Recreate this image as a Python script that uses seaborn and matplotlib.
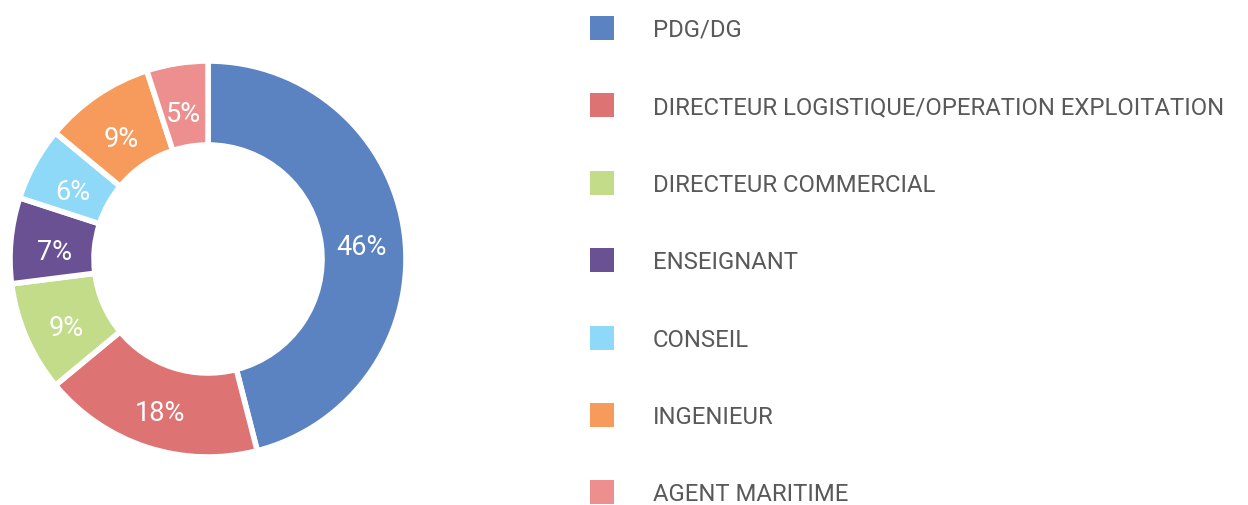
import numpy as np
import matplotlib.pyplot as plt
import matplotlib.transforms as mtransforms
import seaborn as sns
from matplotlib.patches import Rectangle

categories = ["PDG/DG", "DIRECTEUR LOGISTIQUE/OPERATION EXPLOITATION", "DIRECTEUR COMMERCIAL",
              "ENSEIGNANT", "CONSEIL", "INGENIEUR", "AGENT MARITIME"]
values = [46, 18, 9, 7, 6, 9, 5]
colors = ["#5B82C1", "#DE7373", "#C3DC8A", "#6A5193", "#8ED8F8", "#F79B5D", "#EC8F8E"]

sns.set_style("white")
plt.rcParams['font.family'] = ['Roboto', 'DejaVu Sans']

fig = plt.figure(figsize=(12.48, 5.05), dpi=100)
# donut centre ~ (208, 259) px, radius ~198 px
ax = fig.add_axes([(208 - 200) / 1248, (505 - 259 - 200) / 505, 400 / 1248, 400 / 505])
wedges, texts, autotexts = ax.pie(values, colors=sns.color_palette(colors), startangle=90, counterclock=False,
                                  radius=0.99, autopct=lambda p: f"{p:.0f}%", pctdistance=0.78,
                                  wedgeprops=dict(width=0.42, edgecolor="white", linewidth=4),
                                  textprops=dict(color="white", fontsize=19.5))
# labels sit a touch lower than the ring's middle in the original
shift = mtransforms.offset_copy(ax.transData, fig=fig, y=-5, units="dots")
for t in autotexts:
    t.set_va("center_baseline")
    t.set_transform(shift)
ax.set_xlim(-1.0, 1.0)
ax.set_ylim(-1.0, 1.0)
ax.set_aspect("equal")
ax.axis("off")

# legend, drawn by hand
for i, (lab, col) in enumerate(zip(categories, colors)):
    yc = 28 + i * 77.4
    fig.patches.append(Rectangle((590 / 1248, (505 - yc - 12) / 505), 24 / 1248, 24 / 505,
                                 transform=fig.transFigure, facecolor=col, edgecolor="none"))
    fig.text(653 / 1248, (505 - yc) / 505, lab, color="#595959", fontsize=17.2,
             va="center_baseline", ha="left")

plt.savefig("out.png", dpi=100)
